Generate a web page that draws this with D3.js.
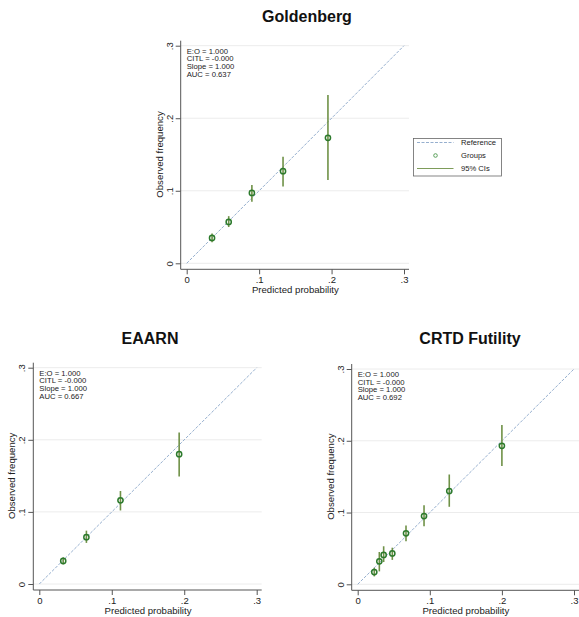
<!DOCTYPE html>
<html>
<head>
<meta charset="utf-8">
<script src="https://cdn.jsdelivr.net/npm/d3@7"></script>
<style>
  body { margin: 0; background: #fff; }
  svg { display: block; font-family: "Liberation Sans", Arial, sans-serif; }
</style>
</head>
<body>
<svg id="chart" width="579" height="617"></svg>
<script>
// --- data ---
const axisTicks = [0, 0.1, 0.2, 0.3];
const tickLabels = ["0", ".1", ".2", ".3"];

const goldPred = [0.035, 0.058, 0.090, 0.133, 0.195];
const goldObs  = [0.035, 0.057, 0.097, 0.127, 0.173];
const goldLo   = [0.029, 0.050, 0.085, 0.106, 0.115];
const goldHi   = [0.041, 0.065, 0.108, 0.147, 0.232];
const goldStats = ["E:O = 1.000", "CITL = -0.000", "Slope = 1.000", "AUC = 0.637"];

const eaarnPred = [0.033, 0.065, 0.112, 0.193];
const eaarnObs  = [0.032, 0.065, 0.116, 0.180];
const eaarnLo   = [0.027, 0.057, 0.102, 0.149];
const eaarnHi   = [0.037, 0.074, 0.129, 0.210];
const eaarnStats = ["E:O = 1.000", "CITL = -0.000", "Slope = 1.000", "AUC = 0.667"];

const crtdPred = [0.023, 0.030, 0.036, 0.048, 0.067, 0.092, 0.127, 0.200];
const crtdObs  = [0.017, 0.032, 0.041, 0.043, 0.071, 0.095, 0.130, 0.193];
const crtdLo   = [0.011, 0.018, 0.031, 0.034, 0.060, 0.081, 0.108, 0.165];
const crtdHi   = [0.023, 0.045, 0.053, 0.051, 0.082, 0.110, 0.153, 0.222];
const crtdStats = ["E:O = 1.000", "CITL = -0.000", "Slope = 1.000", "AUC = 0.692"];

const legendLabels = ["Reference", "Groups", "95% CIs"];

const refColor = "#8aa6c8";
const ciColor = "#6f9147";
const ptColor = "#2c7a2c";

const svg = d3.select("#chart");

function drawPanel(p) {
  const x = d3.scaleLinear().domain([0, 0.3]).range([p.x0, p.x1]);
  const y = d3.scaleLinear().domain([0, 0.3]).range([p.y0, p.y1]);
  const axX = p.x0 - 6;   // y-axis line position
  const axY = p.y0 + 6;   // x-axis line position
  const g = svg.append("g");

  // gridlines
  g.selectAll(".grid").data(axisTicks).join("line")
    .attr("x1", axX).attr("x2", x(0.3) + 5)
    .attr("y1", d => y(d)).attr("y2", d => y(d))
    .attr("stroke", "#ececec").attr("stroke-width", 1);

  // y axis
  const yAxis = g.append("g").attr("transform", `translate(${axX},0)`)
    .call(d3.axisLeft(y).tickValues(axisTicks).tickSize(5).tickSizeOuter(0).tickFormat((d, i) => tickLabels[i]));
  yAxis.select(".domain").remove();
  yAxis.selectAll(".tick line").attr("stroke", "#555");
  yAxis.selectAll(".tick text")
    .attr("font-size", 9.5).attr("fill", "#222")
    .attr("transform", "rotate(-90)")
    .attr("x", 0).attr("y", -8).attr("dy", 0)
    .attr("text-anchor", "middle");
  g.append("line").attr("x1", axX).attr("x2", axX)
    .attr("y1", y(0.3) - 5).attr("y2", axY)
    .attr("stroke", "#555").attr("stroke-width", 1);

  // x axis
  const xAxis = g.append("g").attr("transform", `translate(0,${axY})`)
    .call(d3.axisBottom(x).tickValues(axisTicks).tickSize(5).tickSizeOuter(0).tickFormat((d, i) => tickLabels[i]));
  xAxis.select(".domain").remove();
  xAxis.selectAll(".tick line").attr("stroke", "#555");
  xAxis.selectAll(".tick text").attr("font-size", 9.5).attr("fill", "#222").attr("y", 7);
  g.append("line").attr("x1", axX).attr("x2", x(0.3) + 5)
    .attr("y1", axY).attr("y2", axY)
    .attr("stroke", "#555").attr("stroke-width", 1);

  // axis titles
  g.append("text")
    .attr("x", (p.x0 + p.x1) / 2).attr("y", axY + 24)
    .attr("text-anchor", "middle").attr("font-size", 9.6).attr("fill", "#222")
    .text("Predicted probability");
  g.append("text")
    .attr("transform", `translate(${axX - 18},${(p.y0 + p.y1) / 2}) rotate(-90)`)
    .attr("text-anchor", "middle").attr("font-size", 9.6).attr("fill", "#222")
    .text("Observed frequency");

  // title
  g.append("text")
    .attr("x", p.titleX).attr("y", p.titleY)
    .attr("text-anchor", "middle").attr("font-size", 16).attr("font-weight", "bold")
    .attr("fill", "#111")
    .text(p.title);

  // reference line
  g.append("line")
    .attr("x1", x(0)).attr("y1", y(0)).attr("x2", x(0.3)).attr("y2", y(0.3))
    .attr("stroke", refColor).attr("stroke-width", 0.9)
    .attr("stroke-dasharray", "3,1.5");

  // CIs
  const rows = p.pred.map((d, i) => ({ px: d, ob: p.obs[i], lo: p.lo[i], hi: p.hi[i] }));
  g.selectAll(".ci").data(rows).join("line")
    .attr("x1", d => x(d.px)).attr("x2", d => x(d.px))
    .attr("y1", d => y(d.lo)).attr("y2", d => y(d.hi))
    .attr("stroke", ciColor).attr("stroke-width", 1.6);

  // groups
  g.selectAll(".pt").data(rows).join("circle")
    .attr("cx", d => x(d.px)).attr("cy", d => y(d.ob)).attr("r", 2.6)
    .attr("fill", "none").attr("stroke", ptColor).attr("stroke-width", 1.5);

  // stats text
  g.selectAll(".stat").data(p.stats).join("text")
    .attr("x", x(0)).attr("y", (d, i) => y(0.3) + 8 + i * 7.6)
    .attr("font-size", 7.7).attr("fill", "#222")
    .text(d => d);
}

drawPanel({
  title: "Goldenberg", titleX: 307, titleY: 22,
  x0: 186.7, x1: 404, y0: 263.3, y1: 45.7,
  pred: goldPred, obs: goldObs, lo: goldLo, hi: goldHi, stats: goldStats
});
drawPanel({
  title: "EAARN", titleX: 150, titleY: 344,
  x0: 39.3, x1: 256.7, y0: 584, y1: 367.7,
  pred: eaarnPred, obs: eaarnObs, lo: eaarnLo, hi: eaarnHi, stats: eaarnStats
});
drawPanel({
  title: "CRTD Futility", titleX: 470, titleY: 344,
  x0: 357.7, x1: 574, y0: 584.3, y1: 369,
  pred: crtdPred, obs: crtdObs, lo: crtdLo, hi: crtdHi, stats: crtdStats
});

// --- legend for the top panel ---
const leg = svg.append("g").attr("transform", "translate(413.5,138.5)");
leg.append("rect").attr("width", 88).attr("height", 37.5)
  .attr("fill", "#fff").attr("stroke", "#666").attr("stroke-width", 0.8);
const legY = d3.scalePoint().domain(legendLabels).range([4, 30]).padding(0);
leg.append("line").attr("x1", 3.5).attr("x2", 40).attr("y1", legY("Reference")).attr("y2", legY("Reference"))
  .attr("stroke", refColor).attr("stroke-width", 0.9).attr("stroke-dasharray", "3,1.5");
leg.append("circle").attr("cx", 22).attr("cy", legY("Groups")).attr("r", 1.8)
  .attr("fill", "none").attr("stroke", "#5aa05a").attr("stroke-width", 1);
leg.append("line").attr("x1", 3.5).attr("x2", 40).attr("y1", legY("95% CIs")).attr("y2", legY("95% CIs"))
  .attr("stroke", ciColor).attr("stroke-width", 0.9);
leg.selectAll(".lt").data(legendLabels).join("text")
  .attr("x", 47.5).attr("y", d => legY(d)).attr("dy", "0.35em")
  .attr("font-size", 7.6).attr("fill", "#222")
  .text(d => d);
</script>
</body>
</html>
